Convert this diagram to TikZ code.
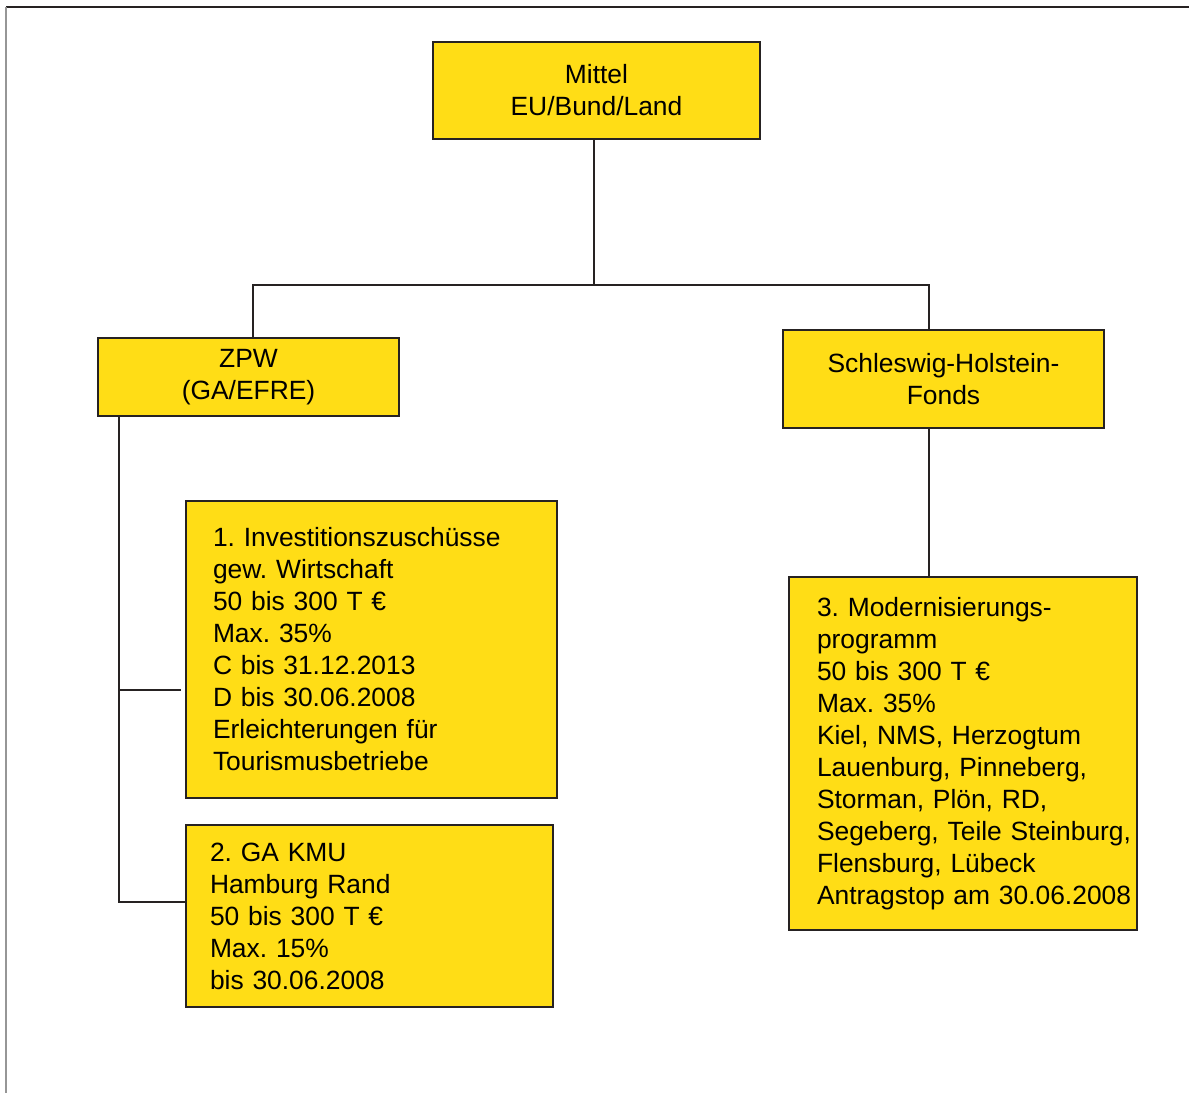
\documentclass[tikz,border=0pt]{standalone}
\usepackage{fontspec}
\setmainfont{Liberation Sans}
\usetikzlibrary{positioning}
\definecolor{foerdergelb}{RGB}{255,221,22}
\definecolor{linie}{RGB}{38,34,34}
\definecolor{rand}{RGB}{150,150,150}
\tikzset{
  kasten/.style={draw=linie,fill=foerdergelb,line width=2.8pt,inner sep=0pt,
    font=\fontsize{26.4}{32}\selectfont\frenchspacing},
  mitte/.style={kasten,align=center},
  liste/.style={kasten,align=left},
  verb/.style={draw=linie,line width=2.6pt}
}
\begin{document}
\begin{tikzpicture}[x=1pt,y=-1pt]
\useasboundingbox (0,0) rectangle (1189,1093);
\draw[linie,line width=2.4pt] (6,7) -- (1189,7);
\draw[rand,line width=2.4pt] (6,7) -- (6,1093);

\node[mitte,minimum width=327pt,minimum height=97pt] (mittel) at (596.5,90.5) {Mittel\\EU/Bund/Land};
\node[mitte,minimum width=301pt,minimum height=78pt] (zpw) at (248.5,377) {ZPW\\(GA/EFRE)};
\node[mitte,minimum width=321pt,minimum height=98pt] (shf) at (943.5,379) {Schleswig-Holstein-\\Fonds};
\node[liste,text width=317pt,minimum width=371pt,minimum height=297pt] (inv) at (371.5,649.5)
  {1. Investitionszuschüsse\\gew. Wirtschaft\\50 bis 300 T €\\Max. 35\%\\C bis 31.12.2013\\D bis 30.06.2008\\Erleichterungen für\\Tourismusbetriebe};
\node[liste,text width=319pt,minimum width=367pt,minimum height=182pt] (gakmu) at (369.5,916)
  {2. GA KMU\\Hamburg Rand\\50 bis 300 T €\\Max. 15\%\\bis 30.06.2008};
\node[liste,text width=292pt,minimum width=348pt,minimum height=353pt] (modern) at (963,753.5)
  {3. Modernisierungs-\\programm\\50 bis 300 T €\\Max. 35\%\\Kiel, NMS, Herzogtum\\Lauenburg, Pinneberg,\\Storman, Plön, RD,\\\mbox{Segeberg, Teile Steinburg,}\\Flensburg, Lübeck\\\mbox{Antragstop am 30.06.2008}};

\coordinate (jm) at (594,285);
\coordinate (jl) at (253,285);
\coordinate (jr) at (929,285);
\coordinate (tap1) at (119,690);
\coordinate (tap2) at (119,902);
\draw[verb] (mittel.south -| jm) -- (jm);
\draw[verb] (zpw.north -| jl) -- (jl) -- (jr) -- (shf.north -| jr);
\draw[verb] (shf.south -| jr) -- (modern.north -| jr);
\draw[verb] (zpw.south -| tap2) -- ([yshift=-1pt]tap2);
\draw[verb,shorten >=4pt] (tap1) -- (tap1 -| inv.west);
\draw[verb] (tap2) -- (tap2 -| gakmu.west);
\end{tikzpicture}
\end{document}
